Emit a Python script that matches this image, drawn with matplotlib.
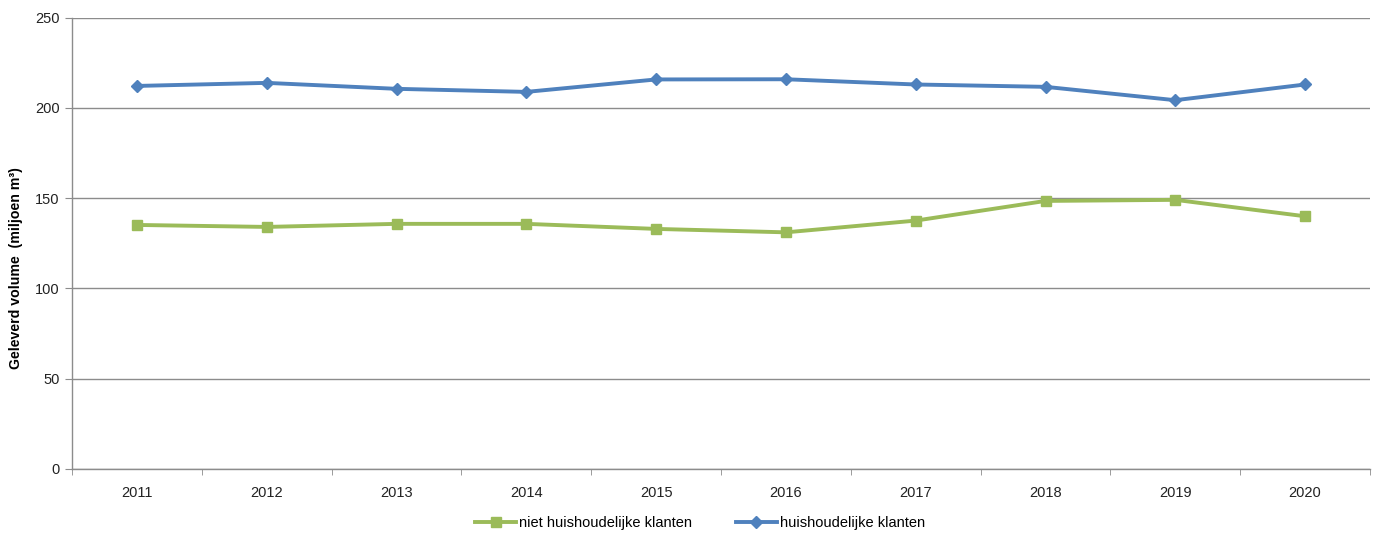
import matplotlib
matplotlib.use("Agg")
import matplotlib.pyplot as plt
import numpy as np

years = ["2011", "2012", "2013", "2014", "2015", "2016", "2017", "2018", "2019", "2020"]
niet_huishoudelijk = [135.2, 134.1, 135.8, 135.8, 133.0, 131.1, 137.6, 148.5, 149.1, 140.0]
huishoudelijk = [212.2, 213.9, 210.6, 208.9, 215.8, 215.9, 213.0, 211.7, 204.3, 213.0]
y_ticks = [0, 50, 100, 150, 200, 250]

plt.rcParams['font.family'] = ['Liberation Sans', 'DejaVu Sans']

fig = plt.figure(figsize=(13.76, 5.36), dpi=100)
ax = fig.add_axes([72/1376, 1-469/536, (1370-72)/1376, (469-17.7)/536])

x = np.arange(len(years))
gray = '#8c8c8c'
ax.plot(x, niet_huishoudelijk, color='#9BBB59', lw=2.8, marker='s', ms=6.5,
        label='niet huishoudelijke klanten', zorder=3)
ax.plot(x, huishoudelijk, color='#4F81BD', lw=2.8, marker='D', ms=6.5,
        label='huishoudelijke klanten', zorder=3)

ax.set_xlim(-0.5, len(years) - 0.5)
ax.set_ylim(0, 250)
ax.set_yticks(y_ticks)
ax.set_yticklabels([str(v) for v in y_ticks], fontsize=10.5, color='#222222')
ax.set_xticks(x)
ax.set_xticklabels(years, fontsize=10.5, color='#222222')
ax.set_xticks(np.arange(-0.5, len(years)), minor=True)
ax.tick_params(axis='x', which='major', length=0, pad=12)
ax.tick_params(axis='x', which='minor', length=4, color=gray, direction='out')
ax.tick_params(axis='y', length=5, color=gray, direction='out', pad=4)

ax.grid(axis='y', color=gray, lw=1.0)
ax.set_axisbelow(True)
for s in ['top', 'right']:
    ax.spines[s].set_visible(False)
for s in ['left', 'bottom']:
    ax.spines[s].set_color(gray)
    ax.spines[s].set_linewidth(1.0)

ax.set_ylabel('Geleverd volume  (miljoen m³)', fontsize=10.2, fontweight='bold')
ax.yaxis.set_label_coords((23 - 72) / 1298, (469 - 268) / 451.3)

fig.legend(loc='center', bbox_to_anchor=(700/1376, 1-523/536), ncol=2, frameon=False,
           fontsize=10.5, handlelength=2.8, columnspacing=3.0, handletextpad=0.2)

fig.savefig('out.png', dpi=100)
